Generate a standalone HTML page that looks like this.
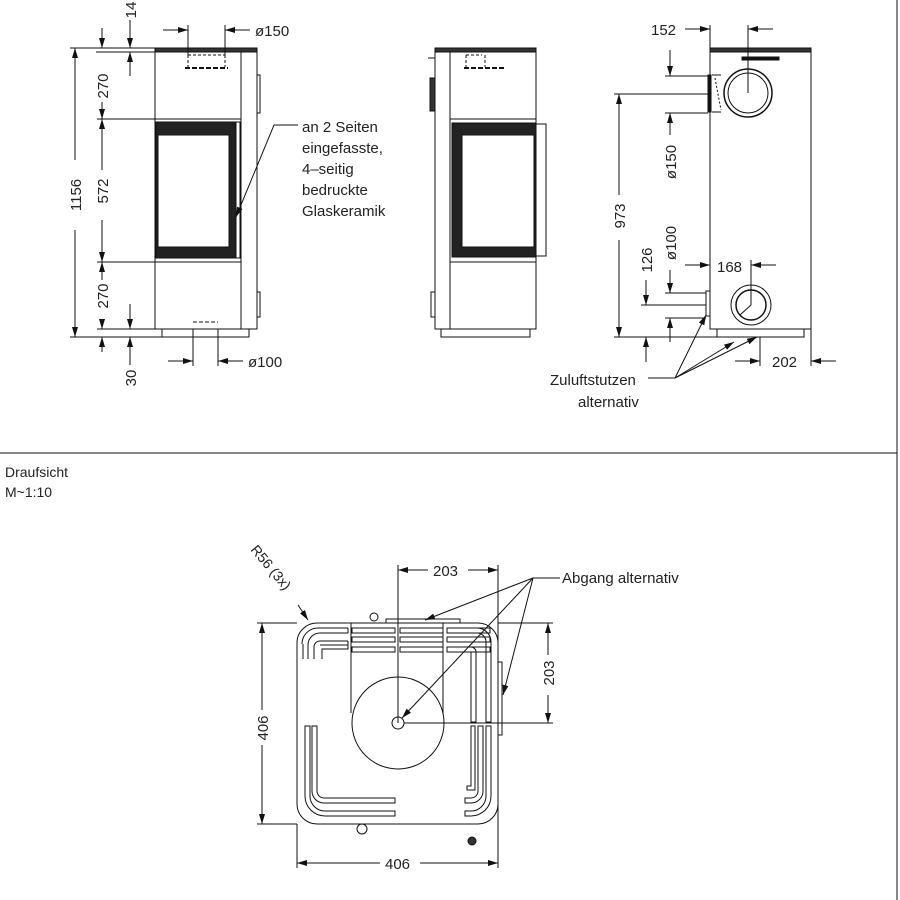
<!DOCTYPE html>
<html><head><meta charset="utf-8"><style>
html,body{margin:0;padding:0;background:#fff;width:900px;height:900px;overflow:hidden}
svg{display:block}
text{font-family:"Liberation Sans",sans-serif;font-size:15px;fill:#222}
</style></head><body>
<svg width="900" height="900" viewBox="0 0 900 900" xmlns="http://www.w3.org/2000/svg">
<defs>
<marker id="a" viewBox="0 0 10 6" refX="10" refY="3" markerWidth="10" markerHeight="6" orient="auto-start-reverse" markerUnits="userSpaceOnUse"><path d="M0,0L10,3L0,6z" fill="#111"/></marker>
</defs>
<g stroke="#111" stroke-width="1" fill="none">
<!-- frame -->
<line x1="897" y1="0" x2="897" y2="900"/>
<line x1="0" y1="453" x2="897" y2="453"/>

<!-- FRONT VIEW -->
<rect x="155" y="48" width="102" height="281"/>
<rect x="155" y="48" width="102" height="4" fill="#333"/>
<line x1="241" y1="52" x2="241" y2="329"/>
<line x1="155" y1="119" x2="241" y2="119"/>
<line x1="155" y1="262" x2="241" y2="262"/>
<rect x="156" y="122" width="80" height="136" fill="#222"/>
<rect x="158" y="135" width="71" height="112" fill="#fff"/>
<rect x="236" y="122" width="4" height="136"/>
<rect x="162" y="329" width="87" height="8"/>
<rect x="257" y="75" width="3" height="38"/>
<rect x="257" y="292" width="3" height="25"/>
<path d="M188,55v12M225,55v12M188,55h37" stroke-dasharray="3,2"/>
<line x1="185" y1="68" x2="228" y2="68" stroke-dasharray="5,2" stroke-width="2"/>
<path d="M193,322h25M193,329h25" stroke-dasharray="4,2"/>
<!-- front dims -->
<line x1="70" y1="48" x2="155" y2="48"/>
<line x1="70" y1="337" x2="162" y2="337"/>
<line x1="75" y1="48" x2="75" y2="160" marker-start="url(#a)"/>
<line x1="75" y1="230" x2="75" y2="337" marker-end="url(#a)"/>
<line x1="97" y1="119" x2="155" y2="119"/>
<line x1="97" y1="262" x2="155" y2="262"/>
<line x1="97" y1="329" x2="155" y2="329"/>
<line x1="102" y1="28" x2="102" y2="48" marker-end="url(#a)"/>
<line x1="102" y1="102" x2="102" y2="119" marker-end="url(#a)"/>
<line x1="102" y1="119" x2="102" y2="170" marker-start="url(#a)"/>
<line x1="102" y1="220" x2="102" y2="262" marker-end="url(#a)"/>
<line x1="102" y1="262" x2="102" y2="280" marker-start="url(#a)"/>
<line x1="102" y1="320" x2="102" y2="329" marker-end="url(#a)"/>
<line x1="102" y1="337" x2="102" y2="352" marker-start="url(#a)"/>
<line x1="130" y1="20" x2="130" y2="48" marker-end="url(#a)"/>
<line x1="130" y1="52" x2="130" y2="76" marker-start="url(#a)"/>
<line x1="96" y1="52" x2="155" y2="52"/>
<line x1="130" y1="304" x2="130" y2="329" marker-end="url(#a)"/>
<line x1="130" y1="337" x2="130" y2="365" marker-start="url(#a)"/>
<line x1="188" y1="25" x2="188" y2="55"/><line x1="225" y1="25" x2="225" y2="55"/>
<line x1="163" y1="30" x2="188" y2="30" marker-end="url(#a)"/>
<line x1="250" y1="30" x2="225" y2="30" marker-end="url(#a)"/>
<line x1="193" y1="329" x2="193" y2="366"/><line x1="218" y1="329" x2="218" y2="366"/>
<line x1="168" y1="361" x2="193" y2="361" marker-end="url(#a)"/>
<line x1="243" y1="361" x2="218" y2="361" marker-end="url(#a)"/>
<path d="M298,125h-24l-38,92" marker-end="url(#a)"/>

<!-- SIDE VIEW -->
<rect x="435" y="48" width="101" height="281"/>
<rect x="435" y="48" width="101" height="4" fill="#333"/>
<line x1="450" y1="52" x2="450" y2="329"/>
<line x1="450" y1="119" x2="536" y2="119"/>
<line x1="450" y1="262" x2="536" y2="262"/>
<rect x="452" y="123" width="84" height="134" fill="#222"/>
<rect x="462" y="135" width="72" height="112" fill="#fff"/>
<rect x="536" y="124" width="10" height="132"/>
<rect x="441" y="329" width="89" height="8"/>
<rect x="430" y="78" width="5" height="33" fill="#333"/>
<rect x="431" y="292" width="4" height="25"/>
<line x1="428" y1="58" x2="435" y2="58"/>
<path d="M466,55h16M466,55v12M485,55v12" stroke-dasharray="3,2"/>
<line x1="464" y1="68" x2="506" y2="68" stroke-dasharray="5,2" stroke-width="2"/>

<!-- BACK VIEW -->
<rect x="710" y="48" width="101" height="281"/>
<rect x="710" y="48" width="101" height="4" fill="#333"/>
<rect x="742" y="57" width="37" height="3" fill="#111"/>
<circle cx="748" cy="93" r="24" stroke-width="1.5"/>
<circle cx="748" cy="93" r="20"/>
<circle cx="751" cy="305" r="20"/>
<circle cx="751" cy="305" r="15" stroke-width="1.5"/>
<rect x="708" y="75" width="3" height="37" fill="#111"/>
<path d="M712,75h9M712,112h9" />
<line x1="715" y1="78" x2="721" y2="110" stroke-dasharray="2,2"/>
<rect x="706" y="291" width="4" height="25"/>
<rect x="717" y="329" width="87" height="8"/>
<line x1="748" y1="25" x2="748" y2="93"/>
<line x1="710" y1="25" x2="710" y2="48"/>
<line x1="685" y1="29" x2="710" y2="29" marker-end="url(#a)"/>
<line x1="773" y1="29" x2="748" y2="29" marker-end="url(#a)"/>
<line x1="614" y1="94" x2="708" y2="94"/>
<line x1="614" y1="337" x2="717" y2="337"/>
<line x1="619" y1="94" x2="619" y2="195" marker-start="url(#a)"/>
<line x1="619" y1="240" x2="619" y2="337" marker-end="url(#a)"/>
<line x1="665" y1="76" x2="708" y2="76"/><line x1="665" y1="113" x2="708" y2="113"/>
<line x1="670" y1="50" x2="670" y2="76" marker-end="url(#a)"/>
<line x1="670" y1="113" x2="670" y2="135" marker-start="url(#a)"/>
<line x1="665" y1="293" x2="706" y2="293"/><line x1="665" y1="318" x2="706" y2="318"/>
<line x1="641" y1="305" x2="706" y2="305"/>
<line x1="670" y1="270" x2="670" y2="293" marker-end="url(#a)"/>
<line x1="670" y1="318" x2="670" y2="342" marker-start="url(#a)"/>
<line x1="646" y1="280" x2="646" y2="305" marker-end="url(#a)"/>
<line x1="646" y1="337" x2="646" y2="362" marker-start="url(#a)"/>
<line x1="751" y1="260" x2="751" y2="305"/>
<line x1="751" y1="305" x2="740" y2="315"/>
<line x1="685" y1="265" x2="710" y2="265" marker-end="url(#a)"/>
<line x1="776" y1="265" x2="751" y2="265" marker-end="url(#a)"/>
<line x1="760" y1="337" x2="760" y2="366"/>
<line x1="811" y1="329" x2="811" y2="366"/>
<line x1="735" y1="361" x2="760" y2="361" marker-end="url(#a)"/>
<line x1="836" y1="361" x2="811" y2="361" marker-end="url(#a)"/>
<path d="M648,378h27"/>
<line x1="675" y1="378" x2="706" y2="315" marker-end="url(#a)"/>
<line x1="675" y1="378" x2="734" y2="342" marker-end="url(#a)"/>
<line x1="675" y1="378" x2="757" y2="337" marker-end="url(#a)"/>

<!-- TOP VIEW -->
<rect x="297" y="623" width="201" height="201" rx="20"/>
<g stroke-width="1">
<path d="M348,628h-30a16,16 0 0 0 -16,16v-0 M348,633h-28a12,12 0 0 0 -12,12v14"/>
<path d="M303,659v-15 M314,659v-12a6,6 0 0 1 6,-6h28"/>
<path d="M348,628v5M348,641v4M320,645h28v4h-26v10"/>
<rect x="352" y="628" width="43" height="5"/><rect x="352" y="637" width="43" height="5"/><rect x="352" y="647" width="43" height="5"/>
<rect x="400" y="628" width="43" height="5"/><rect x="400" y="637" width="43" height="5"/><rect x="400" y="647" width="43" height="5"/>
<rect x="447" y="628" width="43" height="5"/><rect x="447" y="637" width="43" height="5"/><rect x="447" y="647" width="43" height="5"/>
<path d="M447,628h30a14,14 0 0 1 14,14v80h-5v-80a9,9 0 0 0 -9,-9h-30"/>
<path d="M447,647h24a5,5 0 0 1 5,5v70h-5v-70h-24"/>
<path d="M305,726v70a20,20 0 0 0 20,20h70v-5h-70a15,15 0 0 1 -15,-15v-70z"/>
<path d="M312,726v65a12,12 0 0 0 12,12h71v-5h-71a7,7 0 0 1 -7,-7v-65z"/>
<path d="M491,726v70a20,20 0 0 1 -20,20h-6v-5h6a15,15 0 0 0 15,-15v-70z"/>
<path d="M483,726v65a12,12 0 0 1 -12,12h-6v-5h6a7,7 0 0 0 7,-7v-65z"/>
<path d="M475,726v64h-8v-4h4v-60z"/>
</g>
<line x1="351" y1="623" x2="351" y2="713"/>
<line x1="443" y1="623" x2="443" y2="713"/>
<circle cx="398" cy="723" r="46"/>
<circle cx="398" cy="723" r="6"/>
<rect x="386" y="619" width="74" height="4"/>
<rect x="498" y="662" width="4" height="73"/>
<circle cx="362" cy="829" r="5"/><circle cx="472" cy="841" r="4" fill="#333"/>
<circle cx="374" cy="617" r="4"/>
<!-- top dims -->
<line x1="257" y1="623" x2="297" y2="623"/>
<line x1="257" y1="824" x2="297" y2="824"/>
<line x1="262" y1="623" x2="262" y2="710" marker-start="url(#a)"/>
<line x1="262" y1="745" x2="262" y2="824" marker-end="url(#a)"/>
<line x1="297" y1="824" x2="297" y2="868"/><line x1="498" y1="623" x2="498" y2="868"/>
<line x1="297" y1="863" x2="380" y2="863" marker-start="url(#a)"/>
<line x1="420" y1="863" x2="498" y2="863" marker-end="url(#a)"/>
<line x1="398" y1="565" x2="398" y2="723"/>
<line x1="498" y1="565" x2="498" y2="623"/>
<line x1="398" y1="570" x2="428" y2="570" marker-start="url(#a)"/>
<line x1="468" y1="570" x2="498" y2="570" marker-end="url(#a)"/>
<line x1="498" y1="623" x2="553" y2="623"/>
<line x1="404" y1="723" x2="553" y2="723"/>
<line x1="548" y1="623" x2="548" y2="655" marker-start="url(#a)"/>
<line x1="548" y1="695" x2="548" y2="723" marker-end="url(#a)"/>
<path d="M560,578h-27"/>
<line x1="533" y1="578" x2="425" y2="620" marker-end="url(#a)"/>
<line x1="533" y1="578" x2="402" y2="718" marker-end="url(#a)"/>
<line x1="533" y1="578" x2="503" y2="695" marker-end="url(#a)"/>
<line x1="298" y1="605" x2="308" y2="620" marker-end="url(#a)"/>
</g>

<!-- TEXT -->
<text x="255" y="36">ø150</text>
<text x="248" y="367">ø100</text>
<text x="302" y="132">an 2 Seiten</text>
<text x="302" y="153">eingefasste,</text>
<text x="302" y="174">4–seitig</text>
<text x="302" y="195">bedruckte</text>
<text x="302" y="216">Glaskeramik</text>
<text transform="translate(81,195) rotate(-90)" text-anchor="middle">1156</text>
<text transform="translate(108,86) rotate(-90)" text-anchor="middle">270</text>
<text transform="translate(108,191) rotate(-90)" text-anchor="middle">572</text>
<text transform="translate(108,296) rotate(-90)" text-anchor="middle">270</text>
<text transform="translate(136,10) rotate(-90)" text-anchor="middle">14</text>
<text transform="translate(136,378) rotate(-90)" text-anchor="middle">30</text>
<text x="651" y="35">152</text>
<text transform="translate(625,216) rotate(-90)" text-anchor="middle">973</text>
<text transform="translate(676,162) rotate(-90)" text-anchor="middle">ø150</text>
<text transform="translate(676,243) rotate(-90)" text-anchor="middle">ø100</text>
<text transform="translate(652,260) rotate(-90)" text-anchor="middle">126</text>
<text x="717" y="272">168</text>
<text x="772" y="367">202</text>
<text x="550" y="385">Zuluftstutzen</text>
<text x="578" y="407">alternativ</text>
<text x="5" y="477" style="font-size:14px">Draufsicht</text>
<text x="5" y="497" style="font-size:14px">M~1:10</text>
<text transform="translate(250,550) rotate(50)" style="font-size:14px">R56 (3x)</text>
<text x="433" y="576">203</text>
<text transform="translate(554,673) rotate(-90)" text-anchor="middle">203</text>
<text transform="translate(268,728) rotate(-90)" text-anchor="middle">406</text>
<text x="385" y="869">406</text>
<text x="562" y="583">Abgang  alternativ</text>
</svg>
</body></html>
